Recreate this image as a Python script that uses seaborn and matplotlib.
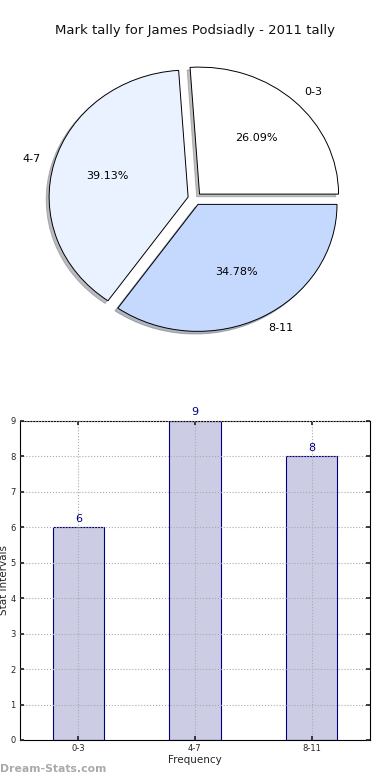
import matplotlib
matplotlib.use("Agg")
import matplotlib.pyplot as plt
import seaborn as sns
import pandas as pd
from matplotlib.colors import to_rgba

sns.set_theme(style="white")
plt.rcParams['font.family'] = ['DejaVu Sans']

categories = ["0-3", "4-7", "8-11"]
values = [6, 9, 8]
pie_colors = ["#FFFFFF", "#EBF2FF", "#C5D9FF"]
title = "Mark tally for James Podsiadly - 2011 tally"

df = pd.DataFrame({"interval": categories, "count": values})

fig = plt.figure(figsize=(3.9, 7.8), dpi=100)

# Pie chart
ax1 = fig.add_axes([0.054, 0.5417, 0.891, 0.407])
wedges, texts, autotexts = ax1.pie(
    df["count"], labels=df["interval"], colors=pie_colors,
    explode=[0.05] * len(values),
    shadow={"ox": -0.015, "oy": -0.015, "shade": 0.5},
    autopct="%1.2f%%",
    wedgeprops=dict(edgecolor="black", linewidth=0.7),
    textprops=dict(fontsize=8, color="black"))
ax1.set_aspect("auto")
ax1.set_xlim(-1.25, 1.25)
ax1.set_ylim(-1.25, 1.25)
ax1.set_title(title, fontsize=9.5, color="#111111", pad=4)

# Bar chart
ax2 = fig.add_axes([0.0513, 0.0513, 0.897, 0.409])
sns.barplot(data=df, x="interval", y="count", ax=ax2, width=0.44,
            color=to_rgba("navy", 0.2), edgecolor="navy", linewidth=0.8,
            saturation=1)
for p, v in zip(ax2.patches, df["count"]):
    ax2.text(p.get_x() + p.get_width() / 2, v + 0.1, str(v),
             ha="center", va="bottom", color="navy", fontsize=8)
ax2.set_xlim(-0.5, 2.5)
ax2.set_ylim(0, 9)
ax2.set_yticks(range(0, 10))
ax2.tick_params(axis="both", labelsize=6, length=3, direction="in",
                left=True, bottom=True, top=True, right=True, pad=3)
ax2.grid(True, linestyle=":", color="#aaaaaa", linewidth=0.8)
ax2.set_axisbelow(False)
for s in ax2.spines.values():
    s.set_color("black")
    s.set_linewidth(0.8)
ax2.set_xlabel("Frequency", fontsize=7.5, labelpad=1)
ax2.set_ylabel("Stat Intervals", fontsize=7.5, labelpad=1)

fig.text(0.0, 0.008, "Dream-Stats.com", fontsize=7.8, color="#aaaaaa",
         fontweight="bold", ha="left", va="bottom")

fig.savefig("out.png", dpi=100)
